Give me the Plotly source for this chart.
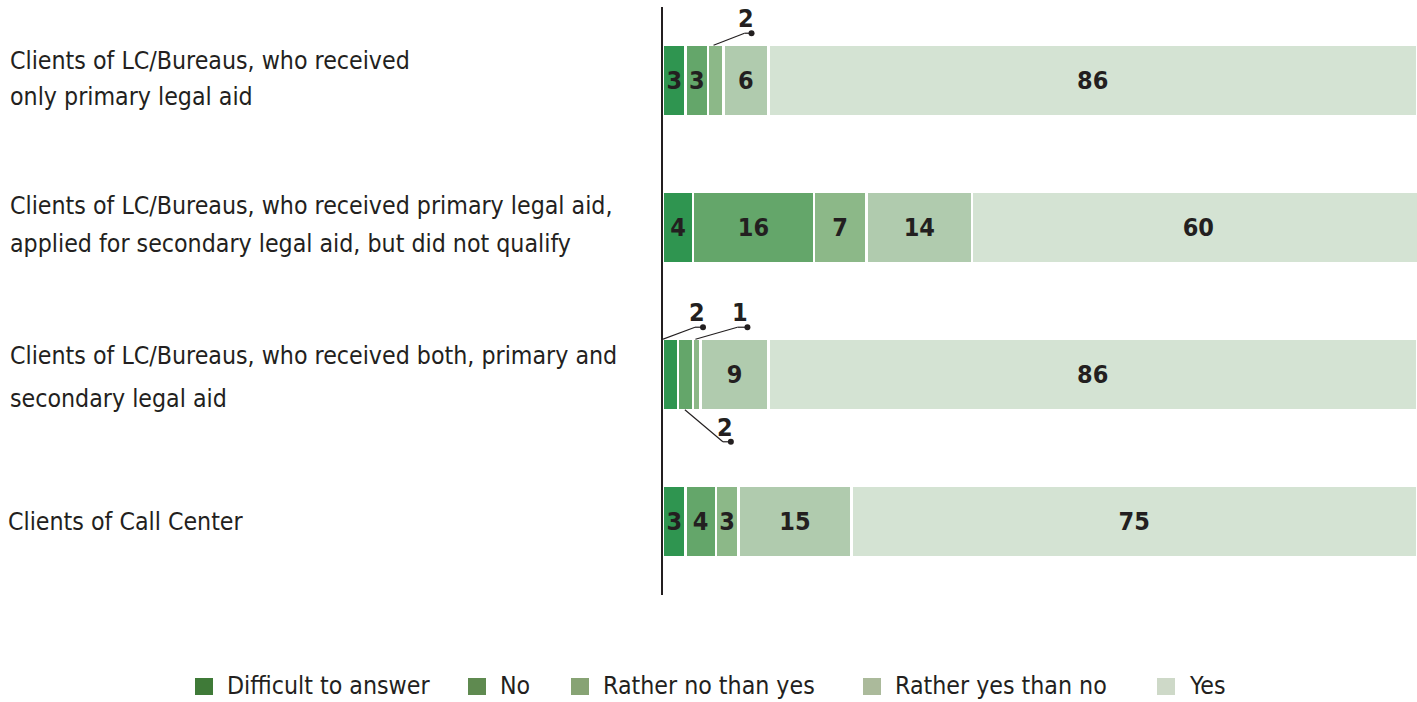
import plotly.graph_objects as go

# ---- data ----
categories = [
    ["Clients of LC/Bureaus, who received", "only primary legal aid"],
    ["Clients of LC/Bureaus, who received primary legal aid,",
     "applied for secondary legal aid, but did not qualify"],
    ["Clients of LC/Bureaus, who received both, primary and", "secondary legal aid"],
    ["Clients of Call Center"],
]
answers = ["Difficult to answer", "No", "Rather no than yes", "Rather yes than no", "Yes"]
difficult = [3, 4, 2, 3]
no = [3, 16, 2, 4]
rather_no = [2, 7, 1, 3]
rather_yes = [6, 14, 9, 15]
yes = [86, 60, 86, 75]

series = [difficult, no, rather_no, rather_yes, yes]
bar_colors = ["#2f9550", "#64a66a", "#8cb888", "#b0cbae", "#d4e3d3"]
legend_colors = ["#3f7a38", "#5f8a50", "#87a374", "#abba9b", "#ced9c8"]

# ---- canvas geometry ----
W, H = 1417, 702
ML, MR, MT, MB = 663, 0, 7, 107
PW, PH = W - ML - MR, H - MT - MB
BAR_W = 0.48


def paper_x(px):
    return (px - ML) / PW


def paper_y(py):
    return (H - MB - py) / PH


TEXT_FONT = "DejaVu Sans Condensed, sans-serif"
NUM_FONT = "DejaVu Sans Condensed, sans-serif"
INK = "#231f20"
TEXT_SIZE = 24.7
NUM_SIZE = 25

rows = list(range(len(categories)))
fig = go.Figure()

# values this small are labelled with a leader line instead of inside the bar
SMALL = 2
for name, vals, col in zip(answers, series, bar_colors):
    fig.add_trace(go.Bar(
        name=name,
        y=rows,
        x=vals,
        orientation="h",
        width=BAR_W,
        marker=dict(color=col, line=dict(color="white", width=2.5)),
        text=["" if v <= SMALL else str(v) for v in vals],
        textposition="inside",
        insidetextanchor="middle",
        textangle=0,
        textfont=dict(family=NUM_FONT, size=NUM_SIZE, color=INK, weight="bold"),
        showlegend=False,
        hoverinfo="x+name",
    ))

# leader-line callouts: (row, answer index, anchor fraction along segment,
#                        side, elbow dx, elbow dy, stub length) in pixels
callouts = [
    (0, 2, 0.35, "top", 31, 12, 7),
    (2, 0, 0.0, "top", 32, 12, 8),
    (2, 2, 0.3, "top", 42, 12, 10),
    (2, 1, 0.45, "bottom", 38, -32, 8),
]

shapes = []
annotations = []
for r, k, frac, side, dx, dy, stub in callouts:
    start = sum(series[j][r] for j in range(k))
    val = series[k][r]
    ax = start + frac * val
    ay = r - BAR_W / 2 if side == "top" else r + BAR_W / 2
    common = dict(xref="x", yref="y", xsizemode="pixel", ysizemode="pixel",
                  xanchor=ax, yanchor=ay)
    line = dict(color=INK, width=1.2)
    shapes.append(dict(type="line", x0=0, y0=0, x1=dx, y1=dy, line=line, **common))
    shapes.append(dict(type="line", x0=dx, y0=dy, x1=dx + stub, y1=dy, line=line, **common))
    shapes.append(dict(type="circle", x0=dx + stub - 3, x1=dx + stub + 3,
                       y0=dy - 3, y1=dy + 3, fillcolor=INK, line=dict(width=0), **common))
    annotations.append(dict(
        x=ax, y=ay, xref="x", yref="y", text=str(val), showarrow=False,
        xanchor="center", yanchor="bottom",
        xshift=dx + stub / 2 - 2, yshift=dy - 2,
        font=dict(family=NUM_FONT, size=NUM_SIZE, color=INK, weight="bold"),
    ))

# category labels, one annotation per line, left aligned
line_centers = [[61, 96], [205, 243], [355, 398], [521]]
label_left = [8, 8, 8, 6]
for lines, centers, lx in zip(categories, line_centers, label_left):
    for txt, cy in zip(lines, centers):
        annotations.append(dict(
            x=paper_x(lx), y=paper_y(cy), xref="paper", yref="paper",
            text=txt, showarrow=False, xanchor="left", yanchor="middle",
            font=dict(family=TEXT_FONT, size=TEXT_SIZE, color=INK),
        ))

# legend row
legend_square_x = [195, 468, 571, 863, 1157]
legend_cy = 686
for name, col, sx in zip(answers, legend_colors, legend_square_x):
    shapes.append(dict(type="rect", xref="paper", yref="paper",
                       x0=paper_x(sx), x1=paper_x(sx + 18),
                       y0=paper_y(legend_cy + 9), y1=paper_y(legend_cy - 8),
                       fillcolor=col, line=dict(width=0)))
    annotations.append(dict(
        x=paper_x(sx + 30), y=paper_y(legend_cy), xref="paper", yref="paper",
        text=name, showarrow=False, xanchor="left", yanchor="middle",
        font=dict(family=TEXT_FONT, size=TEXT_SIZE, color=INK),
    ))

fig.update_layout(
    barmode="stack",
    width=W, height=H,
    margin=dict(l=ML, r=MR, t=MT, b=MB),
    paper_bgcolor="white",
    plot_bgcolor="white",
    uniformtext=dict(minsize=NUM_SIZE, mode="show"),
    xaxis=dict(range=[0, 100], visible=False, fixedrange=True),
    yaxis=dict(range=[3.5, -0.5], showticklabels=False, ticks="",
               showgrid=False, zeroline=False, showline=True,
               linecolor=INK, linewidth=2, fixedrange=True),
    shapes=shapes,
    annotations=annotations,
)

fig.write_html("out.html")
